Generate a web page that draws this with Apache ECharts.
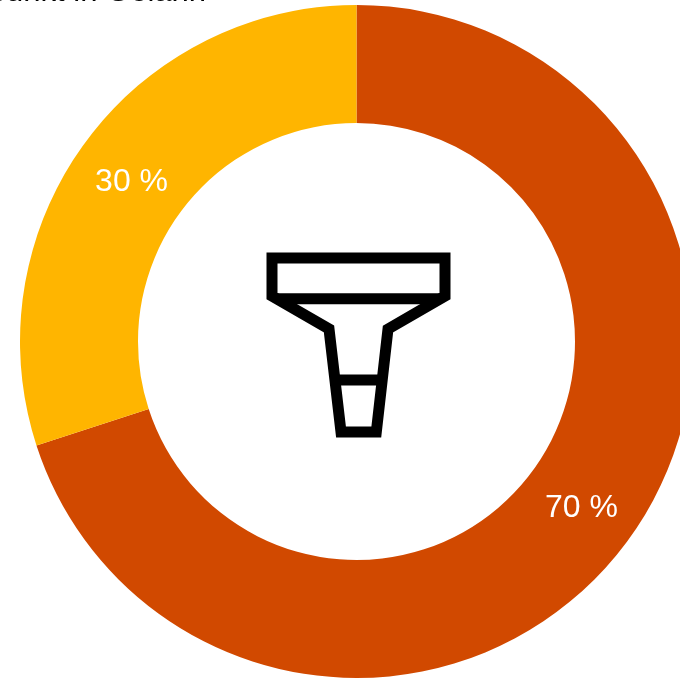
<!DOCTYPE html>
<html><head><meta charset="utf-8">
<style>html,body{margin:0;padding:0;background:#fff}#c{width:680px;height:678px}</style>
<script src="https://cdn.jsdelivr.net/npm/echarts@6/dist/echarts.min.js"></script>
</head><body><div id="c"></div>
<script>
const categories = ['A', 'B'];
const values = [70, 30];
const colors = ['#D14900', '#FFB500'];
const labelOffsets = [[-2, 2], [2, 6]];
const titleText = 'Einsatzpunkt in Gelänn';
const chart = echarts.init(document.getElementById('c'), null, {renderer:'canvas'});
const font = '"Liberation Sans", Arial, sans-serif';
const iconStyle = {fill:'none', stroke:'#000', lineWidth:11, lineJoin:'miter', miterLimit:10};
chart.setOption({
  animation:false,
  backgroundColor:'#fff',
  series:[{
    type:'pie',
    center:[356.5,341.5],
    radius:[218.5,336.5],
    startAngle:90,
    clockwise:true,
    silent:true,
    data:categories.map((c,i)=>({name:c,value:values[i],itemStyle:{color:colors[i]},label:{offset:labelOffsets[i]}})),
    label:{position:'inside',formatter:p=>p.value+' %',color:'#fff',fontSize:32,fontFamily:font},
    labelLine:{show:false}
  }],
  graphic:[
    {type:'text',silent:true,x:206,y:8,style:{text:titleText,align:'right',verticalAlign:'bottom',fontSize:31,fontFamily:font,fill:'#000'}},
    {type:'polygon',silent:true,shape:{points:[[272,258],[445,258],[445,296],[388,329],[376.3,432],[341,432],[329,329],[272,296]]},style:iconStyle},
    {type:'line',silent:true,shape:{x1:276,y1:298.7,x2:441,y2:298.7},style:iconStyle},
    {type:'line',silent:true,shape:{x1:335,y1:380,x2:382,y2:380},style:iconStyle}
  ]
});
</script></body></html>
